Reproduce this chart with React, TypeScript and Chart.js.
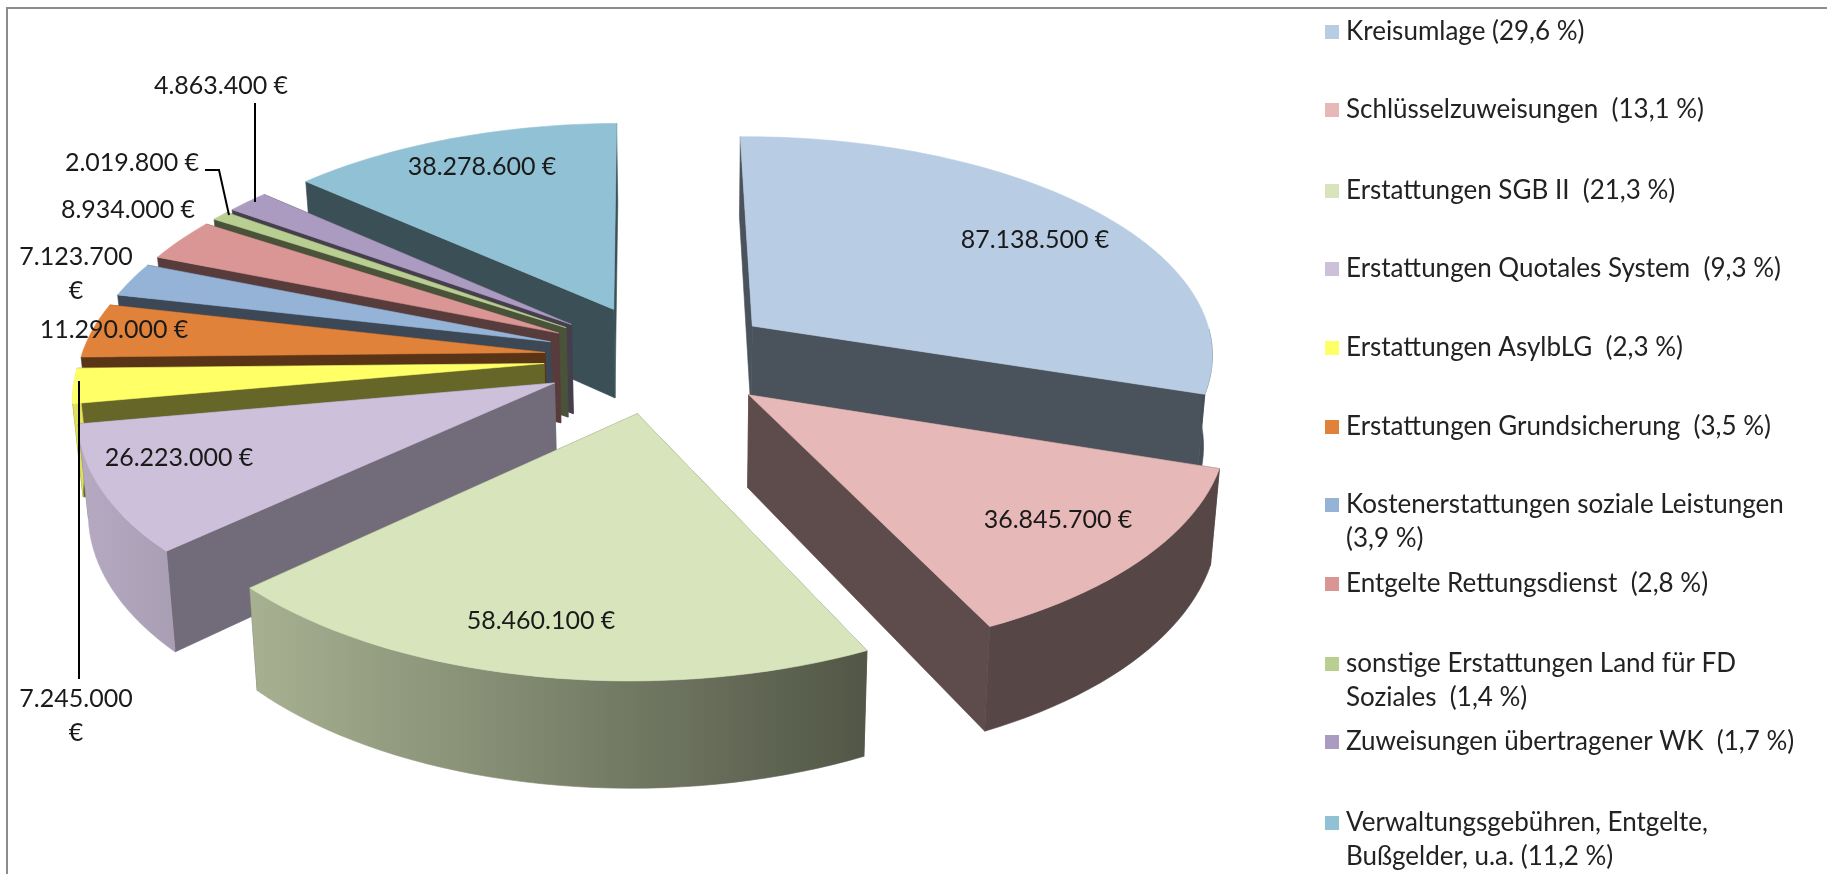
import React, { useEffect, useRef } from "react";
import { Chart, registerables } from "chart.js";

Chart.register(...registerables);

const categories: string[][] = [
  ["Kreisumlage (29,6 %)"],
  ["Schlüsselzuweisungen  (13,1 %)"],
  ["Erstattungen SGB II  (21,3 %)"],
  ["Erstattungen Quotales System  (9,3 %)"],
  ["Erstattungen AsylbLG  (2,3 %)"],
  ["Erstattungen Grundsicherung  (3,5 %)"],
  ["Kostenerstattungen soziale Leistungen", "(3,9 %)"],
  ["Entgelte Rettungsdienst  (2,8 %)"],
  ["sonstige Erstattungen Land für FD", "Soziales  (1,4 %)"],
  ["Zuweisungen übertragener WK  (1,7 %)"],
  ["Verwaltungsgebühren, Entgelte,", "Bußgelder, u.a. (11,2 %)"],
];

const amounts = [
  87138500, 36845700, 58460100, 26223000, 7245000, 11290000, 7123700, 8934000, 2019800, 4863400,
  38278600,
];

const sliceColors = [
  "#B8CCE4", "#E6B8B7", "#D8E4BC", "#CCC0DA", "#FFFF66", "#E0823A", "#95B3D7", "#D99694", "#B9CF92",
  "#AB9BC0", "#90C1D4",
];

// Brightness of the flat side walls, per slice.
const wallShades = [0.4, 0.41, 0.45, 0.56, 0.4, 0.4, 0.4, 0.4, 0.4, 0.4, 0.41];

// Label anchor (x, y) in canvas pixels, second row when the amount wraps above its € sign.
const labelSpots: { x: number; y: number; wrapped?: boolean }[] = [
  { x: 1035, y: 240 },
  { x: 1058, y: 520 },
  { x: 541, y: 621 },
  { x: 179, y: 458 },
  { x: 76, y: 699, wrapped: true },
  { x: 114, y: 330 },
  { x: 76, y: 257, wrapped: true },
  { x: 128, y: 210 },
  { x: 132, y: 163 },
  { x: 221, y: 86 },
  { x: 482, y: 167 },
];

// Leader lines for the labels sitting outside their thin slices.
const leaders: number[][][] = [
  [[255, 103], [255, 202]],
  [[205, 170], [219, 170], [229, 215]],
  [[79, 381], [79, 679]],
];

const legendRows = [32, 110, 191, 269, 348, 427, 505, 584, 664, 742, 823];

const WIDTH = 1827;
const HEIGHT = 874;
const PIE_X = 660;
const PIE_Y = 358;
const PIE_RADIUS = 464;
const PIE_ROTATION = -0.7;
const EXPLODE = 116;

// Camera model: ground-plane depth stretches the picture around a vanishing point,
// and vertical edges lean slightly inwards as they drop.
const VANISH_X = 687;
const PLANE_DROP = 1800;
const CAMERA_DEPTH = 3800;
const WALL_HEIGHT = 91;
const WALL_LEAN = 0.017 / 92;

const LABEL_FONT = '25px Lato, "Noto Sans", sans-serif';
const LEGEND_FONT = '26px Lato, "Noto Sans", sans-serif';

type Pt = [number, number];

function project(px: number, py: number, drop: number): Pt {
  const s = 1 / (1 - (py - PIE_Y) / CAMERA_DEPTH);
  return [
    VANISH_X + (px - VANISH_X) * s * (1 - drop * WALL_LEAN),
    PIE_Y - PLANE_DROP + (PLANE_DROP + drop) * s,
  ];
}

function shade(hex: string, k: number): string {
  const n = parseInt(hex.slice(1), 16);
  const c = [(n >> 16) & 255, (n >> 8) & 255, n & 255].map((v) => Math.round(v * k));
  return `rgb(${c[0]},${c[1]},${c[2]})`;
}

function fillPoly(ctx: CanvasRenderingContext2D, pts: Pt[], fill: string | CanvasGradient) {
  ctx.beginPath();
  pts.forEach(([x, y], i) => (i ? ctx.lineTo(x, y) : ctx.moveTo(x, y)));
  ctx.closePath();
  ctx.fillStyle = fill;
  ctx.strokeStyle = fill;
  ctx.lineWidth = 0.6;
  ctx.fill();
  ctx.stroke();
}

const explodedPie = {
  id: "explodedPie",
  // The library's flat arcs supply the angles; they are redrawn here as solid wedges.
  beforeDatasetsDraw(chart: any) {
    const ctx: CanvasRenderingContext2D = chart.ctx;
    const arcs: any[] = chart.getDatasetMeta(0).data;
    const order = arcs
      .map((arc, index) => ({ arc, index }))
      .sort(
        (a, b) =>
          Math.sin((a.arc.startAngle + a.arc.endAngle) / 2) -
          Math.sin((b.arc.startAngle + b.arc.endAngle) / 2),
      );

    for (const { arc, index } of order) {
      const { startAngle, endAngle, outerRadius } = arc;
      const color: string = arc.options.backgroundColor;
      const mid = (startAngle + endAngle) / 2;
      const ox = arc.x + Math.cos(mid) * arc.options.offset;
      const oy = arc.y + Math.sin(mid) * arc.options.offset;

      const rim: { a: number; p: Pt }[] = [];
      const steps = Math.max(8, Math.ceil((endAngle - startAngle) * 30));
      for (let i = 0; i <= steps; i++) {
        const a = startAngle + ((endAngle - startAngle) * i) / steps;
        rim.push({ a, p: [ox + Math.cos(a) * outerRadius, oy + Math.sin(a) * outerRadius] });
      }

      const wall = (p: Pt, q: Pt): Pt[] => [
        project(p[0], p[1], 0),
        project(q[0], q[1], 0),
        project(q[0], q[1], WALL_HEIGHT),
        project(p[0], p[1], WALL_HEIGHT),
      ];

      const flat = shade(color, wallShades[index]);
      const apex: Pt = [ox, oy];
      const startEnd = rim[0].p;
      const endEnd = rim[rim.length - 1].p;
      const sides = [
        { key: startEnd[1] + oy, pts: wall(apex, startEnd) },
        { key: endEnd[1] + oy, pts: wall(apex, endEnd) },
      ].sort((a, b) => a.key - b.key);

      fillPoly(ctx, sides[0].pts, flat);
      fillPoly(ctx, sides[1].pts, flat);

      // Only the part of the curved wall that faces the viewer is drawn.
      const front = rim.filter((r) => Math.sin(r.a) > 0).map((r) => r.p);
      if (front.length > 1) {
        const gradient = ctx.createLinearGradient(87, 0, 862, 0);
        gradient.addColorStop(0, shade(color, 0.88));
        gradient.addColorStop(1, shade(color, 0.38));
        fillPoly(
          ctx,
          [
            ...front.map(([x, y]) => project(x, y, 0)),
            ...[...front].reverse().map(([x, y]) => project(x, y, WALL_HEIGHT)),
          ],
          gradient,
        );
      }

      fillPoly(ctx, [project(ox, oy, 0), ...rim.map((r) => project(r.p[0], r.p[1], 0))], color);
    }
    return false;
  },
  afterDraw(chart: any) {
    const ctx: CanvasRenderingContext2D = chart.ctx;
    ctx.save();

    // Frame along the top and left edges.
    ctx.strokeStyle = "#8c8c8c";
    ctx.lineWidth = 2;
    ctx.beginPath();
    ctx.moveTo(7, HEIGHT);
    ctx.lineTo(7, 8);
    ctx.lineTo(WIDTH, 8);
    ctx.stroke();

    // Leader lines.
    ctx.strokeStyle = "#000";
    ctx.lineWidth = 2;
    for (const line of leaders) {
      ctx.beginPath();
      line.forEach(([x, y], i) => (i ? ctx.lineTo(x, y) : ctx.moveTo(x, y)));
      ctx.stroke();
    }

    // Amount labels.
    ctx.fillStyle = "#1a1a1a";
    ctx.font = LABEL_FONT;
    ctx.textAlign = "center";
    ctx.textBaseline = "middle";
    amounts.forEach((amount, i) => {
      const spot = labelSpots[i];
      const text = amount.toLocaleString("de-DE");
      if (spot.wrapped) {
        ctx.fillText(text, spot.x, spot.y);
        ctx.fillText("€", spot.x, spot.y + 34);
      } else {
        ctx.fillText(`${text} €`, spot.x, spot.y);
      }
    });

    // Legend column.
    ctx.textAlign = "left";
    ctx.font = LEGEND_FONT;
    categories.forEach((lines, i) => {
      const y = legendRows[i];
      ctx.fillStyle = sliceColors[i];
      ctx.fillRect(1325, y - 7, 14, 14);
      ctx.fillStyle = "#222";
      lines.forEach((line, j) => ctx.fillText(line, 1346, y + j * 34));
    });
    ctx.restore();
  },
};

export default function App() {
  const ref = useRef<HTMLCanvasElement>(null);

  useEffect(() => {
    document.body.style.margin = "0";
    const chart = new Chart(ref.current!, {
      type: "pie",
      data: {
        labels: categories.map((c) => c.join(" ")),
        datasets: [{ data: amounts, backgroundColor: sliceColors, borderWidth: 0, offset: EXPLODE }],
      },
      options: {
        animation: false,
        responsive: false,
        radius: PIE_RADIUS,
        rotation: PIE_ROTATION,
        layout: { padding: { right: WIDTH - 2 * PIE_X, bottom: HEIGHT - 2 * PIE_Y } },
        plugins: { legend: { display: false }, tooltip: { enabled: false } },
      },
      plugins: [explodedPie],
    } as any);
    return () => chart.destroy();
  }, []);

  return (
    <div style={{ width: WIDTH, height: HEIGHT, background: "#fff", overflow: "hidden" }}>
      <canvas ref={ref} width={WIDTH} height={HEIGHT} style={{ display: "block" }} />
    </div>
  );
}
